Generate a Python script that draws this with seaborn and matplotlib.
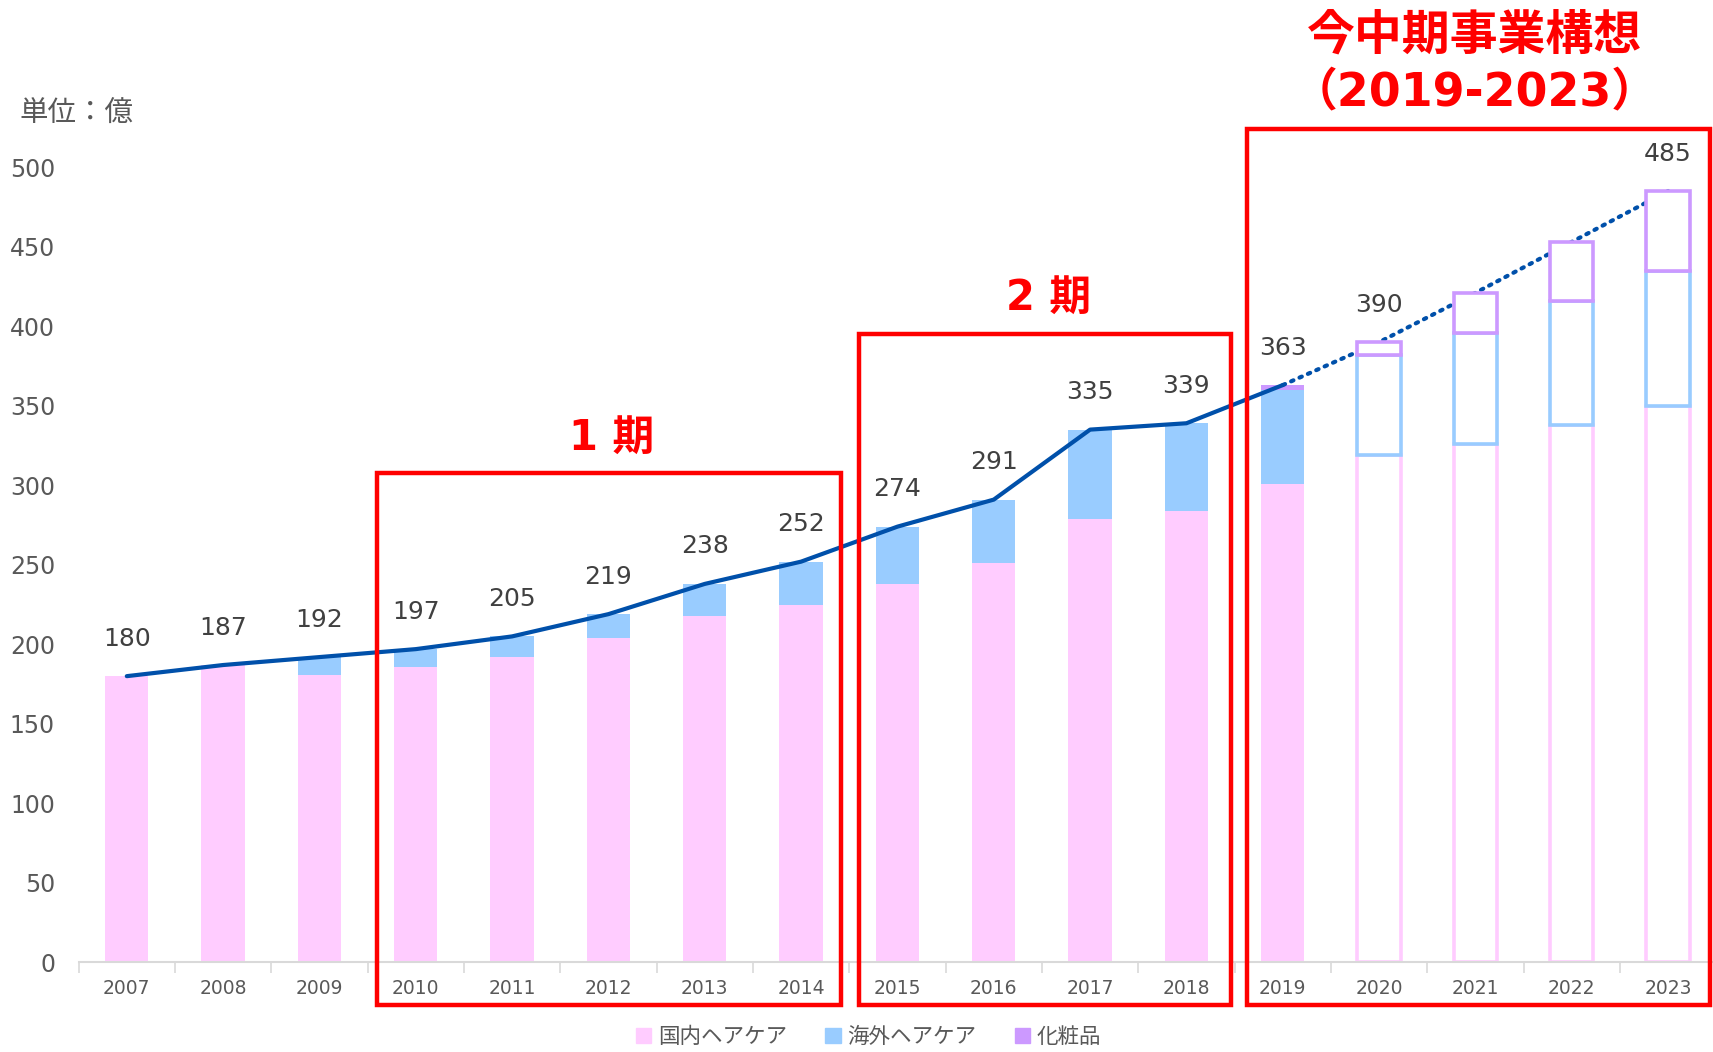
import numpy as np
import pandas as pd
import matplotlib
matplotlib.use("Agg")
import matplotlib.pyplot as plt
from matplotlib.patches import Rectangle, Patch
import seaborn as sns

# values in 億円
years = ["2007", "2008", "2009", "2010", "2011", "2012", "2013", "2014", "2015",
         "2016", "2017", "2018", "2019", "2020", "2021", "2022", "2023"]
domestic = [180, 187, 181, 186, 192, 204, 218, 225, 238, 251, 279, 284, 301, 319, 326, 338, 350]
overseas = [0, 0, 11, 11, 13, 15, 20, 27, 36, 40, 56, 55, 59, 63, 70, 78, 85]
cosmetics = [0, 0, 0, 0, 0, 0, 0, 0, 0, 0, 0, 0, 3, 8, 25, 37, 50]
totals = [180, 187, 192, 197, 205, 219, 238, 252, 274, 291, 335, 339, 363, 390, 421, 453, 485]
show_label = [True] * 14 + [False, False, True]
series_names = ["国内ヘアケア", "海外ヘアケア", "化粧品"]
forecast_from = 13  # index of 2020

c_dom = "#FFCCFF"
c_ovs = "#99CCFF"
c_cos = "#CC99FF"
c_line = "#0050AA"
c_red = "#FF0000"

sns.set_theme(style="white")
plt.rcParams["font.family"] = ["DejaVu Sans", "Noto Sans CJK JP"]

fig = plt.figure(figsize=(17.13, 10.52), dpi=100)
ax = fig.add_axes([0.0459, 0.0851, 0.956, 0.756])

df = pd.DataFrame({"year": years, "dom": domestic, "ovs": overseas, "cos": cosmetics})
bw = 0.45
sns.barplot(data=df, x="year", y="dom", color=c_dom, width=bw, saturation=1, ax=ax)
pos = np.arange(len(years))
dom = np.array(domestic)
ovs = np.array(overseas)
cos = np.array(cosmetics)
ax.bar(pos, ovs, bottom=dom, width=bw, color=c_ovs)
ax.bar(pos, cos, bottom=dom + ovs, width=bw, color=c_cos)

# forecast years: hollow outlined bars
layers = [ax.patches[:17], ax.patches[17:34], ax.patches[34:51]]
for lay, col in zip(layers, [c_dom, c_ovs, c_cos]):
    for i, p in enumerate(lay):
        if i >= forecast_from:
            p.set_facecolor("white")
            p.set_edgecolor(col)
            p.set_linewidth(2.6)
            p.set_zorder(2 + (0.1 if col != c_dom else 0))
        else:
            p.set_linewidth(0)

# total line: solid for actuals, dotted for plan
tot = pd.DataFrame({"x": pos, "y": totals})
sns.lineplot(data=tot.iloc[:forecast_from], x="x", y="y", color=c_line, lw=3, ax=ax)
sns.lineplot(data=tot.iloc[forecast_from - 1:], x="x", y="y", color=c_line, lw=3,
             linestyle=(0, (0.6, 1.6)), dash_capstyle="round", ax=ax)

for i, (t, s) in enumerate(zip(totals, show_label)):
    if s:
        ax.annotate(str(t), (i, t), xytext=(0, 27), textcoords="offset points",
                    ha="center", va="center", fontsize=18, color="#404040")

ax.set_xlim(-0.5, len(years) - 0.5)
ax.set_ylim(0, 500)
ax.set_yticks(range(0, 501, 50))
ax.set_xlabel("")
ax.set_ylabel("")
ax.set_xticks(pos)
ax.set_xticklabels(years)
ax.tick_params(axis="y", length=0, pad=17, labelsize=17, labelcolor="#595959")
ax.tick_params(axis="x", length=0, pad=12, labelsize=13.5, labelcolor="#595959")
ax.set_xticks(np.arange(-0.5, len(years), 1), minor=True)
ax.tick_params(axis="x", which="minor", length=8, width=1.2, color="#D9D9D9", bottom=True)
for sp in ["top", "right", "left"]:
    ax.spines[sp].set_visible(False)
ax.spines["bottom"].set_color("#D9D9D9")
ax.spines["bottom"].set_linewidth(1.5)

# period boxes
for x0, x1, ytop in [(2.6, 7.415, 307.7), (7.6, 11.46, 395), (11.63, 16.43, 524)]:
    ax.add_patch(Rectangle((x0, -26.8), x1 - x0, ytop + 26.8, fill=False,
                           edgecolor=c_red, lw=3.2, clip_on=False, zorder=5))
ax.text(5.03, 330, "1 期", ha="center", va="center", fontsize=30, fontweight="bold",
        color=c_red, clip_on=False)
ax.text(9.57, 418, "2 期", ha="center", va="center", fontsize=30, fontweight="bold",
        color=c_red, clip_on=False)
fig.text(0.861, 0.966, "今中期事業構想", ha="center", va="center", fontsize=34.5,
         fontweight="bold", color=c_red)
fig.text(0.861, 0.912, "（2019-2023）", ha="center", va="center", fontsize=33,
         fontweight="bold", color=c_red)

fig.text(0.0115, 0.892, "単位：億", ha="left", va="center", fontsize=20.5, color="#595959")

handles = [Patch(color=c) for c in [c_dom, c_ovs, c_cos]]
fig.legend(handles, series_names, loc="center", bbox_to_anchor=(0.507, 0.014), ncol=3,
           frameon=False, fontsize=15.5, handlelength=0.7, handleheight=0.7,
           handletextpad=0.3, columnspacing=1.8, labelcolor="#595959")

fig.savefig("out.png", dpi=100)
